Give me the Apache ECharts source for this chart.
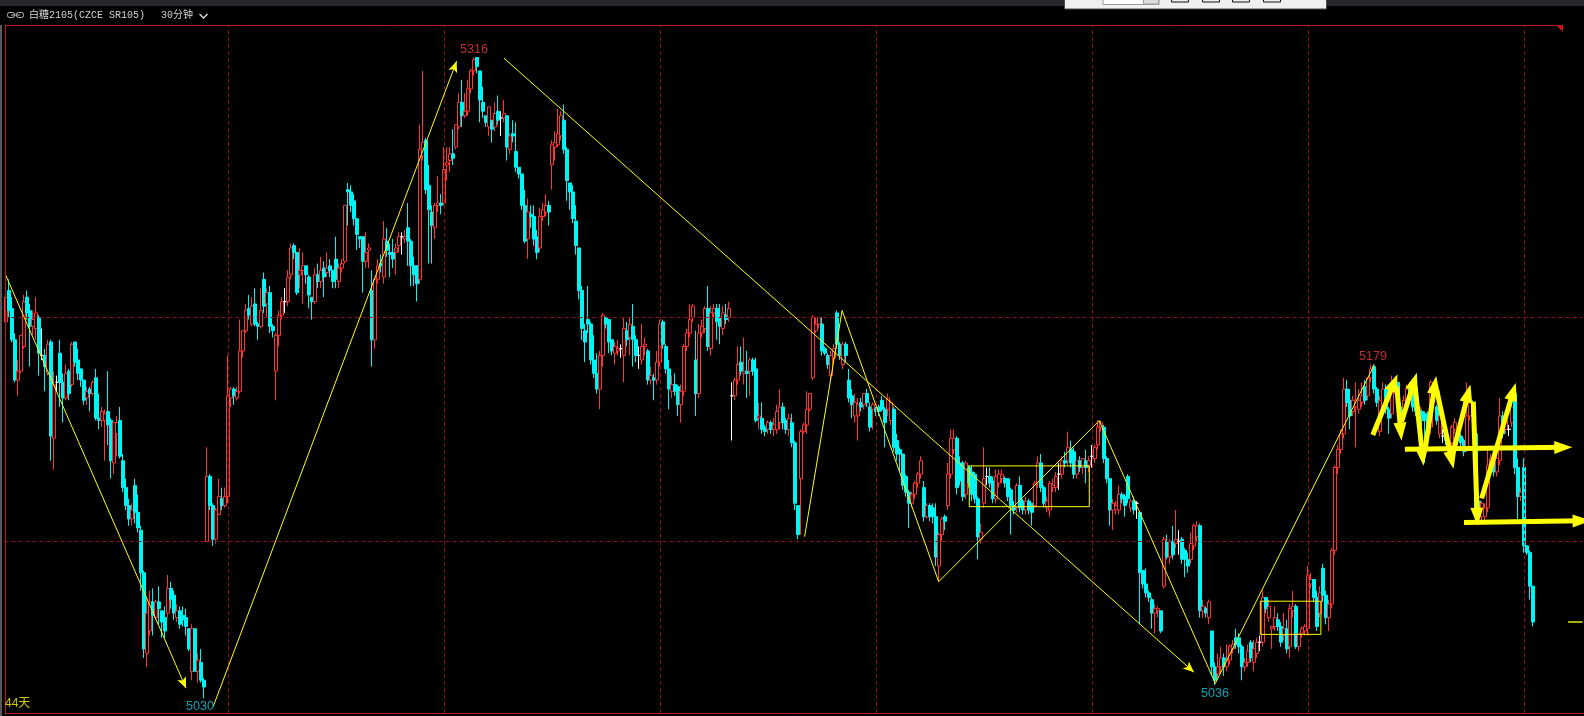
<!DOCTYPE html>
<html><head><meta charset="utf-8">
<script src="https://cdn.jsdelivr.net/npm/echarts@6/dist/echarts.min.js"></script>
<style>html,body{margin:0;padding:0;background:#000;overflow:hidden}#c{width:1584px;height:716px;}</style>
</head><body><div id="c"></div>
<script>
// 30-minute candles, [open, close, low, high], grouped by the spans between vertical grid lines
const span1 = [
[5198,5209,5197,5217],[5212,5203,5200,5217],[5204,5190,5189,5209],[5190,5172,5171,5193],[5172,5176,5165,5181],
[5176,5192,5175,5192],[5187,5207,5186,5210],[5209,5202,5199,5212],[5203,5196,5178,5206],[5196,5199,5192,5203],
[5195,5202,5190,5209],[5200,5184,5174,5201],[5183,5183,5181,5195],[5183,5178,5167,5186],[5175,5188,5174,5190],
[5189,5147,5136,5190],[5146,5170,5132,5176],[5171,5171,5167,5174],[5184,5171,5160,5190],[5171,5164,5153,5175],
[5164,5175,5163,5179],[5176,5166,5163,5177],[5170,5188,5169,5189],[5189,5180,5178,5189],[5181,5175,5172,5186],
[5177,5172,5169,5177],[5172,5163,5161,5172],[5164,5167,5161,5169],[5168,5166,5158,5169],[5166,5171,5165,5172],
[5173,5155,5154,5177],[5155,5154,5150,5166],[5154,5158,5151,5160],[5154,5157,5136,5159],[5158,5152,5143,5176],
[5154,5136,5128,5155],[5135,5153,5130,5153],[5148,5153,5138,5156],[5154,5138,5137,5160],[5136,5124,5122,5139],
[5124,5116,5114,5128],[5116,5110,5107,5119],[5110,5114,5107,5117],[5125,5113,5108,5128],[5113,5106,5104,5121],
[5105,5086,5078,5107],[5086,5052,5048,5087],[5050,5068,5044,5075],[5060,5073,5058,5078],[5073,5067,5058,5079],
[5066,5073,5065,5074],[5073,5070,5063,5080],[5069,5064,5057,5069],[5066,5060,5057,5071],[5068,5079,5066,5085],
[5079,5074,5070,5082],[5076,5068,5065,5078],[5066,5069,5064,5072],[5069,5063,5061,5071],[5067,5065,5062,5071],
[5066,5062,5058,5070],[5061,5052,5051,5061],[5042,5061,5038,5063],[5061,5042,5042,5061],[5042,5047,5037,5050],
[5046,5038,5037,5052],[5038,5035,5030,5039],[5100,5129,5100,5142],[5129,5116,5114,5130],[5116,5101,5098,5117],
[5101,5114,5099,5115],[5112,5120,5112,5128],[5119,5116,5114,5124],[5116,5120,5115,5124],[5120,5165,5117,5183]
];
const span2 = [
[5164,5168,5160,5169],[5168,5165,5161,5169],[5164,5167,5163,5169],[5167,5185,5166,5199],[5185,5194,5182,5194],
[5194,5203,5193,5206],[5204,5201,5199,5210],[5197,5205,5196,5209],[5206,5197,5196,5213],[5197,5196,5190,5198],
[5196,5203,5195,5213],[5217,5205,5202,5220],[5206,5211,5200,5213],[5211,5196,5193,5214],[5196,5194,5191,5197],
[5176,5192,5163,5193],[5192,5201,5187,5203],[5201,5207,5199,5209],[5207,5207,5202,5213],[5207,5218,5205,5221],
[5219,5231,5217,5233],[5232,5229,5226,5233],[5229,5211,5210,5229],[5219,5221,5213,5231],[5221,5223,5206,5229],
[5223,5219,5215,5223],[5218,5210,5204,5219],[5209,5207,5199,5209],[5207,5219,5206,5222],[5219,5216,5213,5224],
[5216,5221,5213,5227],[5222,5218,5209,5225],[5220,5222,5218,5229],[5223,5221,5218,5226],[5221,5216,5213,5221],
[5226,5217,5213,5236],[5216,5222,5213,5224],[5222,5224,5220,5226],[5225,5250,5224,5250],[5257,5256,5241,5260],
[5256,5250,5247,5259],[5252,5244,5241,5255],[5244,5237,5230,5244],[5236,5235,5231,5236],[5236,5225,5211,5236],
[5225,5229,5222,5238],[5230,5231,5222,5233],[5212,5190,5178,5221],[5190,5217,5186,5218],[5217,5223,5215,5226],
[5224,5223,5220,5228],[5218,5235,5215,5243],[5234,5230,5227,5240],[5229,5228,5218,5233],[5229,5226,5222,5235],
[5229,5231,5219,5233],[5232,5236,5229,5238],[5236,5236,5228,5238],[5235,5236,5233,5239],[5240,5234,5223,5251],
[5234,5223,5214,5235],[5223,5219,5214,5227],[5223,5215,5207,5223],[5217,5275,5215,5286],[5272,5278,5270,5310],
[5279,5257,5255,5280],[5259,5248,5224,5268],[5247,5241,5224,5250],[5240,5250,5235,5251],[5250,5251,5247,5263],
[5251,5250,5246,5255],[5251,5266,5250,5276]
];
const span3 = [
[5268,5269,5261,5276],[5270,5273,5265,5276],[5273,5271,5268,5284],[5276,5286,5275,5286],[5285,5296,5284,5300],
[5296,5290,5285,5306],[5290,5292,5289,5300],[5292,5302,5290,5306],[5302,5310,5300,5311],[5310,5315,5308,5316],
[5316,5312,5309,5316],[5310,5297,5287,5310],[5296,5292,5289,5303],[5290,5287,5285,5290],[5285,5294,5281,5294],
[5288,5284,5278,5288],[5285,5291,5283,5296],[5292,5288,5286,5299],[5289,5289,5281,5292],[5289,5291,5287,5297],
[5290,5276,5270,5290],[5275,5281,5273,5282],[5282,5281,5278,5288],[5274,5267,5265,5287],[5267,5264,5262,5267],
[5264,5250,5248,5264],[5250,5234,5233,5257],[5235,5247,5226,5253],[5246,5245,5240,5250],[5245,5235,5232,5250],
[5236,5229,5226,5239],[5231,5245,5229,5249],[5245,5248,5243,5251],[5247,5250,5245,5255],[5250,5247,5241,5252],
[5268,5277,5257,5279],[5276,5278,5270,5283],[5277,5282,5276,5293],[5281,5290,5279,5292],[5288,5275,5273,5295],
[5275,5261,5252,5276],[5260,5256,5248,5260],[5256,5244,5242,5259],[5243,5232,5228,5250],[5231,5212,5208,5231],
[5212,5195,5190,5214],[5194,5189,5180,5197],[5199,5197,5193,5214],[5197,5181,5179,5198],[5181,5175,5173,5192],
[5175,5168,5166,5184],[5168,5183,5159,5185],[5183,5201,5178,5202],[5200,5197,5195,5200],[5199,5189,5184,5199],
[5190,5185,5183,5190],[5184,5187,5179,5189],[5185,5186,5183,5190],[5186,5186,5182,5188],[5183,5195,5171,5200],
[5194,5190,5187,5198],[5191,5197,5183,5200],[5196,5190,5178,5206],[5190,5183,5180,5192],[5183,5183,5177,5187],
[5181,5187,5179,5197],[5187,5188,5183,5191],[5185,5172,5170,5186],[5172,5174,5170,5178],[5173,5172,5163,5175],
[5172,5180,5170,5185],[5180,5197,5178,5199]
];
const span4 = [
[5198,5188,5186,5199],[5187,5177,5175,5188],[5177,5168,5159,5181],[5167,5170,5164,5174],[5170,5167,5165,5175],
[5169,5161,5156,5170],[5161,5167,5153,5170],[5167,5187,5165,5188],[5187,5193,5185,5195],[5193,5199,5191,5206],
[5200,5205,5198,5206],[5181,5166,5156,5194],[5166,5193,5164,5197],[5193,5196,5191,5199],[5195,5204,5193,5205],
[5204,5187,5185,5214],[5186,5202,5183,5205],[5202,5204,5200,5206],[5204,5198,5190,5206],[5200,5196,5188,5206],
[5195,5202,5192,5205],[5201,5199,5197,5206],[5200,5204,5198,5207],[5165,5165,5145,5171],[5165,5172,5163,5173],
[5172,5179,5170,5187],[5180,5176,5174,5187],[5175,5176,5170,5191],[5176,5175,5164,5185],[5176,5181,5165,5182],
[5181,5176,5174,5182],[5177,5154,5153,5182],[5155,5156,5150,5162],[5155,5150,5148,5162],[5151,5149,5147,5152],
[5150,5153,5148,5154],[5153,5150,5148,5154],[5150,5152,5147,5155],[5150,5158,5148,5161],[5153,5160,5150,5168],
[5160,5153,5150,5162],[5154,5150,5148,5155],[5150,5155,5147,5157],[5153,5144,5142,5157],[5144,5117,5114,5145],
[5116,5103,5101,5116],[5128,5149,5103,5150],[5149,5152,5148,5153],[5152,5159,5148,5167],[5159,5166,5158,5166],
[5173,5200,5172,5201],[5194,5197,5193,5200],[5197,5200,5195,5200],[5197,5185,5183,5200],[5186,5184,5183,5187],
[5183,5179,5177,5184],[5174,5183,5172,5185],[5182,5186,5180,5188],[5202,5188,5186,5203],[5188,5183,5181,5189],
[5179,5188,5177,5189],[5188,5183,5180,5189],[5172,5164,5162,5177],[5165,5161,5155,5168],[5156,5162,5153,5166],
[5156,5161,5145,5164],[5162,5160,5158,5164],[5161,5166,5159,5166],[5166,5162,5160,5168],[5160,5151,5149,5162],
[5159,5161,5150,5162],[5159,5158,5156,5160]
];
const span5 = [
[5160,5158,5156,5161],[5163,5159,5158,5165],[5159,5153,5142,5160],[5159,5164,5156,5166],[5154,5162,5152,5163],
[5159,5142,5140,5160],[5145,5139,5136,5148],[5141,5139,5131,5142],[5139,5125,5123,5139],[5129,5122,5120,5130],
[5122,5117,5106,5123],[5117,5121,5115,5122],[5121,5126,5119,5127],[5126,5130,5124,5131],[5130,5136,5128,5138],
[5124,5111,5109,5127],[5111,5116,5110,5117],[5116,5111,5109,5117],[5115,5111,5108,5117],[5111,5093,5089,5117],
[5089,5103,5082,5104],[5103,5110,5100,5111],[5111,5109,5105,5112],[5116,5130,5114,5135],[5130,5146,5128,5150],
[5141,5146,5139,5150],[5146,5124,5121,5147],[5135,5127,5125,5138],[5135,5120,5118,5136],[5121,5135,5119,5136],
[5133,5126,5124,5134],[5131,5121,5118,5134],[5130,5119,5117,5131],[5119,5102,5092,5120],[5101,5104,5099,5108],
[5117,5128,5115,5142],[5129,5129,5125,5133],[5129,5126,5124,5133],[5127,5119,5117,5129],[5119,5129,5117,5132],
[5126,5130,5124,5132],[5128,5130,5126,5132],[5128,5126,5124,5129],[5128,5120,5118,5128],[5123,5116,5103,5124],
[5116,5114,5112,5118],[5115,5125,5113,5126],[5125,5115,5113,5129],[5118,5114,5112,5119],[5114,5118,5112,5120],
[5118,5114,5112,5119],[5117,5113,5107,5117],[5116,5126,5115,5127],[5126,5135,5124,5138],[5135,5124,5122,5139],
[5124,5117,5115,5125],[5115,5118,5113,5120],[5114,5126,5111,5127],[5124,5125,5122,5128],[5124,5129,5122,5131],
[5130,5130,5123,5135],[5130,5136,5128,5138],[5136,5135,5133,5140],[5136,5142,5134,5149],[5141,5135,5133,5145],
[5140,5130,5128,5142],[5130,5136,5128,5136],[5136,5133,5131,5138],[5133,5137,5130,5137],[5136,5133,5126,5141],
[5134,5136,5131,5138],[5138,5138,5133,5143]
];
const span6 = [
[5137,5142,5135,5143],[5143,5151,5141,5154],[5151,5153,5149,5154],[5151,5137,5135,5152],[5137,5128,5126,5138],
[5128,5114,5107,5128],[5114,5117,5105,5119],[5114,5116,5112,5118],[5114,5121,5112,5125],[5121,5119,5117,5122],
[5120,5116,5111,5121],[5129,5119,5117,5130],[5115,5118,5113,5119],[5118,5114,5112,5120],[5117,5117,5110,5118],
[5113,5086,5063,5113],[5087,5081,5079,5087],[5081,5077,5075,5088],[5077,5075,5073,5078],[5074,5068,5061,5075],
[5068,5070,5059,5072],[5069,5070,5066,5071],[5069,5060,5059,5069],[5080,5101,5079,5102],[5100,5093,5092,5103],
[5093,5100,5090,5101],[5100,5094,5092,5107],[5099,5101,5097,5114],[5100,5100,5094,5105],[5101,5092,5090,5102],
[5096,5092,5084,5097],[5092,5089,5086,5095],[5092,5099,5090,5104],[5098,5107,5096,5108],[5102,5107,5100,5109],
[5107,5069,5066,5108],[5069,5071,5066,5074],[5070,5068,5066,5071],[5066,5073,5063,5074],[5060,5044,5040,5060],
[5044,5038,5036,5046],[5041,5044,5039,5050],[5044,5048,5041,5053],[5048,5044,5040,5050],[5044,5047,5042,5054],
[5047,5053,5045,5054],[5052,5054,5050,5056],[5057,5054,5052,5061],[5057,5053,5050,5059],[5053,5044,5038,5054],
[5044,5046,5042,5048],[5046,5051,5044,5054],[5055,5048,5046,5056],[5046,5052,5042,5056],[5050,5055,5048,5057],
[5055,5055,5051,5058],[5055,5075,5053,5078],[5075,5070,5068,5075],[5066,5071,5064,5074],[5061,5062,5052,5062],
[5062,5066,5060,5071],[5065,5062,5060,5068],[5062,5055,5053,5064],[5058,5061,5056,5068],[5061,5052,5050,5065],
[5053,5070,5048,5072],[5069,5071,5066,5078],[5071,5053,5052,5072],[5053,5059,5051,5059],[5059,5061,5057,5062],
[5060,5062,5058,5063],[5061,5085,5058,5089]
];
const span7 = [
[5081,5083,5079,5086],[5083,5075,5073,5083],[5075,5062,5060,5078],[5068,5077,5066,5080],[5088,5076,5073,5090],
[5076,5066,5063,5078],[5066,5072,5060,5074],[5072,5096,5070,5097],[5096,5133,5094,5134],[5133,5141,5130,5143],
[5141,5148,5139,5150],[5148,5168,5146,5173],[5168,5162,5160,5172],[5163,5156,5150,5168],[5158,5163,5156,5165],
[5160,5163,5142,5171],[5159,5163,5157,5168],[5162,5165,5160,5171],[5169,5163,5161,5172],[5165,5173,5163,5173],
[5173,5177,5171,5179],[5178,5168,5166,5179],[5168,5162,5160,5169],[5149,5163,5147,5165],[5159,5168,5157,5171],
[5168,5159,5157,5170],[5159,5155,5148,5160],[5157,5171,5155,5174],[5168,5171,5166,5173],[5171,5161,5159,5171],
[5160,5156,5154,5162],[5159,5163,5157,5165],[5163,5168,5161,5170],[5169,5166,5164,5171],[5171,5160,5158,5172],
[5160,5158,5156,5162],[5158,5160,5155,5162],[5158,5154,5150,5159],[5157,5154,5135,5158],[5156,5152,5150,5158],
[5151,5171,5148,5172],[5170,5166,5163,5171],[5160,5154,5152,5161],[5148,5156,5146,5158],[5147,5147,5144,5150],
[5147,5145,5143,5148],[5145,5144,5142,5147],[5144,5151,5142,5152],[5150,5153,5148,5155],[5147,5145,5143,5148],
[5147,5144,5141,5148],[5145,5140,5138,5146],[5142,5156,5140,5171],[5156,5162,5154,5164],[5162,5156,5154,5163],
[5148,5113,5108,5149],[5118,5111,5108,5119],[5111,5117,5108,5118],[5111,5115,5109,5117],[5115,5134,5113,5141],
[5134,5137,5132,5139],[5137,5131,5129,5139],[5131,5137,5129,5140],[5136,5156,5134,5164],[5156,5148,5146,5158],
[5150,5154,5148,5156],[5150,5150,5147,5152],[5153,5160,5151,5162],[5166,5133,5130,5167],[5133,5120,5110,5137],
[5120,5122,5118,5124],[5133,5098,5095,5137]
];
const span8 = [[5098,5095,5094,5098],[5095,5080,5074,5096],[5080,5064,5062,5080]];

// axis slots (one per 30-minute bar, including empty room on the right)
const slotCount = 526;
const slots = Array.from({length: slotCount}, (_, i) => String(i));
const verticalGridSlots = ['74','146','218','290','362','434','506'];
const horizontalGridPrices = [5100, 5200];

// annotations in (bar index, price)
const thinArrows = [
  [[-0.3, 5219.5], [60, 5034.5]],
  [[69.1, 5026.4], [150.2, 5314.3]],
  [[166, 5315.7], [396, 5041.6]]
];
const zigzag = [[266.2,5102.1],[278.7,5203.1],[310.9,5082.0],[364.4,5153.9],[403.1,5036.6],[456.1,5178.8]];
const box1 = [[321.1,5115.5],[361.1,5115.5],[361.1,5133.7],[321.1,5133.7],[321.1,5115.5]];
const box2 = [[418.1,5058.5],[438.3,5058.5],[438.3,5073.3],[418.1,5073.3],[418.1,5058.5]];
const thickArrows = [
  [[455.6,5147.5],[462.7,5170.9]], [[463.6,5169.1],[464.9,5149.0]],
  [[465.2,5153.5],[469.4,5171.4]], [[469.7,5169.1],[472.2,5137.8]],
  [[473.0,5140.8],[476.3,5169.9]], [[476.9,5167.6],[481.9,5136.3]],
  [[482.4,5140.0],[487.4,5166.1]], [[489.1,5162.4],[490.4,5111.0]],
  [[491.9,5119.2],[502.4,5166.9]],
  [[466.3,5141.1],[519.1,5142.0]], [[486.0,5108.4],[525.2,5109.2]]
];
const lastPriceMark = [[520.7,5064],[525.5,5064]];
const extremes = [
  {name:'5316', at:[156,5316], color:'#f03a3a', off:[0,-8]},
  {name:'5179', at:[456,5179], color:'#f03a3a', off:[-1,-8]},
  {name:'5030', at:[65,5030], color:'#19c8dc', off:[-1,8]},
  {name:'5036', at:[403,5036], color:'#19c8dc', off:[0,8.5]}
];

const candles = [].concat(span1, span2, span3, span4, span5, span6, span7, span8);
const kdata = candles.map(d => d[0] === d[1]
  ? {value: d, itemStyle: {color:'#ffffff', color0:'#ffffff', borderColor:'#ffffff', borderColor0:'#ffffff', borderColorDoji:'#ffffff'}}
  : d);

const chart = echarts.init(document.getElementById('c'));
const YEL = '#ffff00';
const gridDash = {color:'#8a1212', width:1, type:[4,3]};

chart.setOption({
  backgroundColor: '#000000',
  animation: false,
  grid: {left: 4.5, right: 1.5, top: 25, bottom: 3},
  xAxis: [
    {type:'category', data: slots, boundaryGap: true, show: false},
    {type:'value', min: -0.5, max: slotCount - 0.5, show: false}
  ],
  yAxis: {type:'value', min: 5023.4, max: 5330.5, show: false},
  series: [
    {
      type:'candlestick', data: kdata, barWidth: 3,
      itemStyle: {color:'#000000', color0:'#00f4f4', borderColor:'#ff3434', borderColor0:'#00f4f4', borderColorDoji:'#ffffff', borderWidth:1},
      markLine: {
        silent:true, symbol:['none','none'], label:{show:false}, lineStyle: gridDash, animation:false,
        data: horizontalGridPrices.map(p => ({yAxis:p})).concat(verticalGridSlots.map(s => ({xAxis:s})))
      }
    },
    {
      type:'line', xAxisIndex:1, data: zigzag, symbol:'none', silent:true, z:5,
      lineStyle:{color:YEL, width:1},
      markLine: {
        silent:true, symbol:['none','arrow'], symbolSize:[7,11], label:{show:false}, animation:false,
        lineStyle:{color:YEL, width:1, type:'solid'},
        data: thinArrows.map(l => [{coord:l[0]},{coord:l[1]}])
      }
    },
    {
      type:'line', xAxisIndex:1, data: box1, symbol:'none', silent:true, z:5,
      lineStyle:{color:YEL, width:1},
      markLine: {
        silent:true, symbol:['none','triangle'], symbolSize:[13,18], label:{show:false}, animation:false,
        lineStyle:{color:YEL, width:5, type:'solid'},
        data: thickArrows.map(l => [{coord:l[0]},{coord:l[1]}])
      }
    },
    {
      type:'line', xAxisIndex:1, data: box2, symbol:'none', silent:true, z:5,
      lineStyle:{color:YEL, width:1},
      markLine: {
        silent:true, symbol:['none','none'], label:{show:false}, animation:false,
        lineStyle:{color:'#e8e800', width:1.5, type:'solid'},
        data: [[{coord:lastPriceMark[0]},{coord:lastPriceMark[1]}]]
      }
    },
    {
      type:'scatter', xAxisIndex:1, symbolSize:1, silent:true, z:6,
      itemStyle:{color:'rgba(0,0,0,0)'},
      label:{show:true, position:'inside', formatter:'{b}', fontSize:12.5, fontFamily:'Liberation Sans'},
      data: extremes.map(e => ({name:e.name, value:e.at, label:{color:e.color, offset:e.off}}))
    }
  ],
  graphic: [
    {type:'rect', z:10, shape:{x:0,y:0,width:1584,height:6}, style:{fill:'#25272b'}},
    {type:'rect', z:11, shape:{x:1064.5,y:-1,width:262,height:10}, style:{fill:'#f0f0f0', stroke:'#4a4a4a', lineWidth:1}},
    {type:'rect', z:12, shape:{x:1103,y:-1,width:56,height:5.5}, style:{fill:'#ffffff', stroke:'#9a9a9a', lineWidth:1}},
    {type:'rect', z:12, shape:{x:1143.5,y:-1,width:15,height:5}, style:{fill:'#dddddd', stroke:'#9a9a9a', lineWidth:1}},
    {type:'rect', z:12, shape:{x:1171.5,y:-2,width:17,height:4}, style:{fill:'#f0f0f0', stroke:'#111', lineWidth:1}},
    {type:'rect', z:12, shape:{x:1202.5,y:-2,width:17,height:4}, style:{fill:'#f0f0f0', stroke:'#111', lineWidth:1}},
    {type:'rect', z:12, shape:{x:1232.5,y:-2,width:17,height:4}, style:{fill:'#f0f0f0', stroke:'#111', lineWidth:1}},
    {type:'rect', z:12, shape:{x:1263.5,y:-2,width:17,height:4}, style:{fill:'#f0f0f0', stroke:'#111', lineWidth:1}},
    // link icon
    {type:'rect', z:10, shape:{x:7.5,y:12.5,width:7,height:5,r:2}, style:{fill:'none', stroke:'#bdbdbd', lineWidth:1}},
    {type:'rect', z:10, shape:{x:16.5,y:12.5,width:7,height:5,r:2}, style:{fill:'none', stroke:'#bdbdbd', lineWidth:1}},
    {type:'line', z:10, shape:{x1:11,y1:15,x2:20,y2:15}, style:{stroke:'#bdbdbd', lineWidth:1}},
    {type:'text', z:10, x:29, y:15.5, style:{text:'白糖2105(CZCE SR105)', fill:'#d6d6d6', font:'10px "Liberation Mono", "Noto Sans CJK SC"', verticalAlign:'middle', align:'left'}},
    {type:'text', z:10, x:161, y:15.5, style:{text:'30分钟', fill:'#d6d6d6', font:'10px "Liberation Mono", "Noto Sans CJK SC"', verticalAlign:'middle', align:'left'}},
    {type:'polyline', z:10, shape:{points:[[199.5,14],[203.5,18],[207.5,14]]}, style:{fill:null, stroke:'#d6d6d6', lineWidth:1.5}},
    // frame
    {type:'line', z:10, shape:{x1:5,y1:25.5,x2:1563,y2:25.5}, style:{stroke:'#c01818', lineWidth:1}},
    {type:'polygon', z:10, shape:{points:[[1556,25],[1563,25],[1563,32]]}, style:{fill:'#c01818'}},
    {type:'line', z:10, shape:{x1:5,y1:713.5,x2:1584,y2:713.5}, style:{stroke:'#c01818', lineWidth:1}},
    {type:'line', z:10, shape:{x1:5.5,y1:25,x2:5.5,y2:713}, style:{stroke:'#c01818', lineWidth:1}},
    {type:'line', z:10, shape:{x1:1,y1:25,x2:1,y2:716}, style:{stroke:'#5a5a5a', lineWidth:2}},
    {type:'text', z:10, x:5, y:704, style:{text:'44天', fill:'#d2c800', font:'12px "Liberation Sans", "Noto Sans CJK SC"', verticalAlign:'middle', align:'left'}}
  ]
});
</script>
</body></html>
